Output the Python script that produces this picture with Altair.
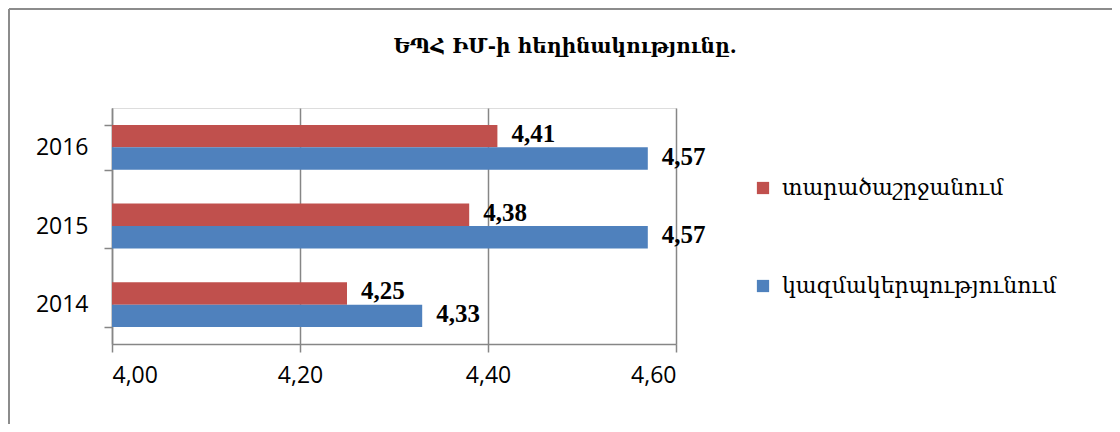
import altair as alt
import pandas as pd

years = ["2016", "2015", "2014"]
series = ["տարածաշրջանում", "կազմակերպությունում"]
region_vals = [4.41, 4.38, 4.25]
org_vals = [4.57, 4.57, 4.33]
colors = ["#C0504D", "#4F81BD"]
x_ticks = [4.0, 4.2, 4.4, 4.6]
title_text = "ԵՊՀ ԻՄ-ի հեղինակությունը."

rows = []
for y, r, o in zip(years, region_vals, org_vals):
    rows.append({"year": y, "series": series[0], "value": r})
    rows.append({"year": y, "series": series[1], "value": o})
df = pd.DataFrame(rows)

W, H = 564, 236
PADL, PADT = 104, 100
PADR = 1104 - PADL - W
PADB = 416 - PADT - H

xscale = alt.Scale(domain=[4.0, 4.6], nice=False, zero=False)
yscale = alt.Scale(domain=years, paddingInner=0.43, paddingOuter=0.215)

base = alt.Chart(df).encode(
    y=alt.Y("year:N", scale=yscale, sort=years,
            axis=alt.Axis(title=None, labelFont="Open Sans", labelFontSize=23,
                          labelColor="#000000", labelPadding=16, tickSize=8,
                          tickColor="#868686", domainColor="#868686",
                          tickBand="extent", domainWidth=1.5, tickWidth=1.5,
                          grid=False)),
    yOffset=alt.YOffset("series:N", sort=series, scale=alt.Scale(domain=series, paddingInner=0, paddingOuter=0)),
)

bars = base.mark_bar().encode(
    x=alt.X("value:Q", scale=xscale,
            axis=alt.Axis(title=None, values=x_ticks,
                          labelExpr="replace(format(datum.value, '.2f'), '.', ',')",
                          labelFont="Open Sans", labelFontSize=23, labelColor="#000000",
                          labelPadding=12, tickSize=8, tickColor="#868686",
                          domainColor="#868686", domainWidth=1.5, tickWidth=1.5,
                          grid=True, gridColor="#868686", gridWidth=1.5)),
    x2=alt.datum(4.0),
    color=alt.Color("series:N", scale=alt.Scale(domain=series, range=colors),
                    legend=alt.Legend(title=None, orient="none", legendX=640, legendY=69,
                                      symbolType="square", symbolSize=150,
                                      symbolStrokeWidth=0,
                                      labelFont="DejaVu Serif", labelFontSize=22,
                                      labelColor="#000000", rowPadding=76,
                                      labelOffset=8, labelLimit=400)),
)

labels = base.mark_text(align="left", baseline="middle", dx=14, dy=-2,
                        font="Liberation Serif", fontWeight="bold", fontSize=25,
                        color="#000000").transform_calculate(
    label="replace(format(datum.value, '.2f'), '.', ',')"
).encode(
    x=alt.X("value:Q", scale=xscale),
    text="label:N",
)

title = alt.Chart(pd.DataFrame({"t": [title_text]})).mark_text(
    font="DejaVu Serif", fontSize=20, fontWeight="bold", color="#000000",
    align="center", baseline="middle"
).encode(x=alt.value(453), y=alt.value(-61), text="t:N")

frame_top = alt.Chart(pd.DataFrame({"k": [0]})).mark_rule(
    color="#8C8C8C", strokeWidth=2
).encode(x=alt.value(-103), x2=alt.value(1000), y=alt.value(-99))
frame_left = alt.Chart(pd.DataFrame({"k": [0]})).mark_rule(
    color="#8C8C8C", strokeWidth=2
).encode(x=alt.value(-103), y=alt.value(-99), y2=alt.value(316))

chart = alt.layer(bars, labels, title, frame_top, frame_left).properties(
    width=W, height=H,
    padding={"left": PADL, "top": PADT, "right": PADR, "bottom": PADB},
    autosize=alt.AutoSizeParams(type="none"),
).configure_view(fill="#E6E0EC", stroke=None).configure(background="#FFFFFF")

chart.save("out.html", embed_options={"renderer": "svg", "actions": False})
